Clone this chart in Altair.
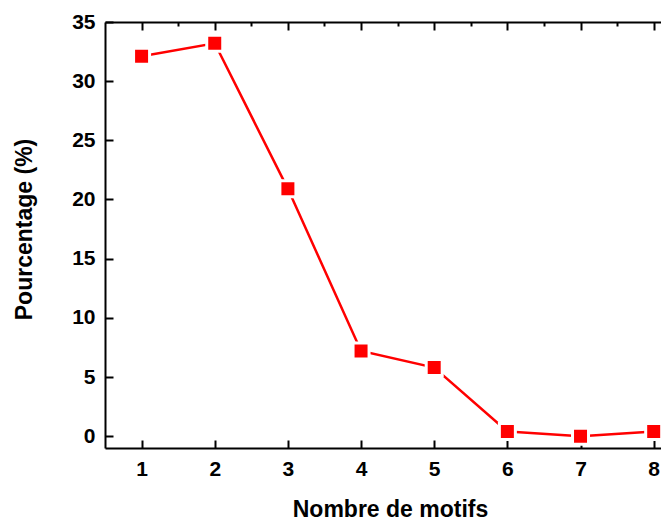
import altair as alt
import pandas as pd

# Data
motifs = [1, 2, 3, 4, 5, 6, 7, 8]
pourcentage = [32.1, 33.2, 20.9, 7.2, 5.8, 0.4, 0.0, 0.4]

x_ticks = [1, 1.5, 2, 2.5, 3, 3.5, 4, 4.5, 5, 5.5, 6, 6.5, 7, 7.5, 8]
y_ticks = [0, 2.5, 5, 7.5, 10, 12.5, 15, 17.5, 20, 22.5, 25, 27.5, 30, 32.5, 35]

df = pd.DataFrame({"motifs": motifs, "pct": pourcentage})

FONT = "Liberation Sans"
xscale = alt.Scale(domain=[0.5, 8.1], nice=False, zero=False)
yscale = alt.Scale(domain=[-1, 35], nice=False, zero=False)

# negative tick sizes: ticks point into the plot (major / minor)
x_size = alt.ExprRef(expr="datum.value % 1 === 0 ? -8 : -4")
y_size = alt.ExprRef(expr="datum.value % 5 === 0 ? -8 : -4")

x_axis = alt.Axis(
    values=x_ticks, tickSize=x_size, labelPadding=18,
    labelExpr="datum.value % 1 === 0 ? format(datum.value, 'd') : ''",
    title="Nombre de motifs", titleX=285, titleY=68,
    titleBaseline="alphabetic", titleAlign="center",
)
y_axis = alt.Axis(
    values=y_ticks, tickSize=y_size, labelPadding=18,
    labelExpr="datum.value % 5 === 0 ? format(datum.value, 'd') : ''",
    title="Pourcentage (%)", titleX=-74, titleY=207, titleAngle=-90,
    titleBaseline="alphabetic", titleAlign="center",
)

base = alt.Chart(df)
line = base.mark_line(color="#ff0000", strokeWidth=2.5).encode(
    x=alt.X("motifs:Q", scale=xscale, axis=x_axis),
    y=alt.Y("pct:Q", scale=yscale, axis=y_axis),
)
points = base.mark_square(size=256, color="#ff0000", stroke="white",
                          strokeWidth=3, opacity=1).encode(
    x=alt.X("motifs:Q", scale=xscale),
    y=alt.Y("pct:Q", scale=yscale),
)
frame = base.mark_point(opacity=0).encode(
    x=alt.X("motifs:Q", scale=xscale,
            axis=alt.Axis(orient="top", values=x_ticks, tickSize=x_size,
                          labels=False, title=None)),
    y=alt.Y("pct:Q", scale=yscale,
            axis=alt.Axis(orient="right", domain=False, ticks=False,
                          labels=False, title=None)),
)

chart = (
    alt.layer(line + points, frame)
    .resolve_axis(x="independent", y="independent")
    .properties(
        width=556, height=426,
        padding={"left": 97, "top": 14, "right": 0, "bottom": 76},
        autosize=alt.AutoSizeParams(type="none"),
    )
    .configure_view(stroke=None)
    .configure_axis(
        domainColor="black", domainWidth=2, tickColor="black", tickWidth=2,
        grid=False,
        labelFont=FONT, labelFontSize=21, labelFontWeight="bold",
        labelColor="black",
        titleFont=FONT, titleFontSize=23, titleFontWeight="bold",
        titleColor="black",
    )
)

chart.save("out.html", embed_options={"renderer": "svg", "actions": False})
